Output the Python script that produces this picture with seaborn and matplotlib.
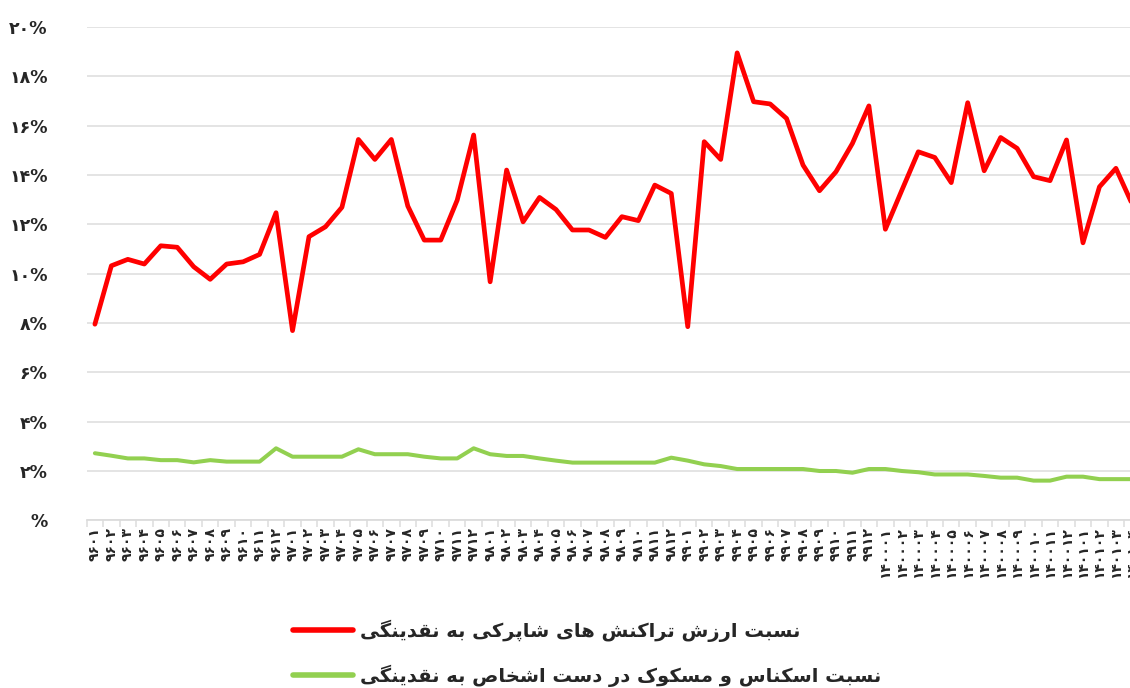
import numpy as np
import pandas as pd
import matplotlib
matplotlib.use('Agg')
import matplotlib.pyplot as plt
import seaborn as sns

# سال ها و ماه ها (۹۶۰۱ تا ۱۴۰۱۰۴)
years = ['96', '97', '98', '99', '1400', '1401']
months_per_year = [12, 12, 12, 12, 12, 4]

# نسبت ارزش تراکنش های شاپرکی به نقدینگی (%)
shaparak = [7.95, 10.32, 10.58, 10.39, 11.13, 11.07, 10.28, 9.77, 10.39, 10.48, 10.78, 12.47,
            7.69, 11.5, 11.9, 12.69, 15.44, 14.63, 15.44, 12.74, 11.36, 11.36, 12.98, 15.62,
            9.67, 14.2, 12.1, 13.09, 12.6, 11.77, 11.77, 11.47, 12.31, 12.15, 13.59, 13.25,
            7.85, 15.35, 14.63, 18.95, 16.97, 16.88, 16.29, 14.4, 13.36, 14.13, 15.28, 16.8,
            11.8, 13.38, 14.94, 14.71, 13.69, 16.93, 14.17, 15.52, 15.08, 13.93, 13.77, 15.42,
            11.25, 13.52, 14.27, 12.8]

# نسبت اسکناس و مسکوک در دست اشخاص به نقدینگی (%)
cash = [2.72, 2.62, 2.51, 2.51, 2.44, 2.44, 2.35, 2.44, 2.38, 2.38, 2.38, 2.92,
        2.58, 2.58, 2.58, 2.58, 2.88, 2.68, 2.68, 2.68, 2.58, 2.51, 2.51, 2.92,
        2.68, 2.61, 2.61, 2.51, 2.42, 2.34, 2.34, 2.34, 2.34, 2.34, 2.34, 2.54,
        2.42, 2.27, 2.2, 2.08, 2.08, 2.08, 2.08, 2.08, 2.0, 2.0, 1.93, 2.08,
        2.08, 2.0, 1.95, 1.86, 1.86, 1.86, 1.8, 1.73, 1.73, 1.61, 1.61, 1.77,
        1.77, 1.67, 1.67, 1.67]

label_red = 'نسبت ارزش تراکنش های شاپرکی به نقدینگی'
label_green = 'نسبت اسکناس و مسکوک در دست اشخاص به نقدینگی'

FA = str.maketrans('0123456789', '۰۱۲۳۴۵۶۷۸۹')

# matplotlib حروف فارسی را به هم نمی چسباند، پس شکل ها دستی انتخاب می شوند
FORMS = {
    'ا': ('\uFE8D', '\uFE8E', None, None),
    'ب': ('\uFE8F', '\uFE90', '\uFE91', '\uFE92'),
    'پ': ('\uFB56', '\uFB57', '\uFB58', '\uFB59'),
    'ت': ('\uFE95', '\uFE96', '\uFE97', '\uFE98'),
    'خ': ('\uFEA5', '\uFEA6', '\uFEA7', '\uFEA8'),
    'د': ('\uFEA9', '\uFEAA', None, None),
    'ر': ('\uFEAD', '\uFEAE', None, None),
    'ز': ('\uFEAF', '\uFEB0', None, None),
    'س': ('\uFEB1', '\uFEB2', '\uFEB3', '\uFEB4'),
    'ش': ('\uFEB5', '\uFEB6', '\uFEB7', '\uFEB8'),
    'ص': ('\uFEB9', '\uFEBA', '\uFEBB', '\uFEBC'),
    'ق': ('\uFED5', '\uFED6', '\uFED7', '\uFED8'),
    'ک': ('\uFB8E', '\uFB8F', '\uFB90', '\uFB91'),
    'گ': ('\uFB92', '\uFB93', '\uFB94', '\uFB95'),
    'م': ('\uFEE1', '\uFEE2', '\uFEE3', '\uFEE4'),
    'ن': ('\uFEE5', '\uFEE6', '\uFEE7', '\uFEE8'),
    'ه': ('\uFEE9', '\uFEEA', '\uFEEB', '\uFEEC'),
    'و': ('\uFEED', '\uFEEE', None, None),
    'ی': ('\uFBFC', '\uFBFD', '\uFBFE', '\uFBFF'),
}


def shape(text):
    out = []
    for i, ch in enumerate(text):
        if ch not in FORMS:
            out.append(ch)
            continue
        prev = text[i - 1] if i > 0 else ''
        nxt = text[i + 1] if i + 1 < len(text) else ''
        iso, fin, ini, med = FORMS[ch]
        join_prev = prev in FORMS and FORMS[prev][2] is not None
        join_next = nxt in FORMS and ini is not None
        if join_prev and join_next:
            out.append(med)
        elif join_prev:
            out.append(fin)
        elif join_next:
            out.append(ini)
        else:
            out.append(iso)
    return ''.join(reversed(out))


month_labels = []
for y, m in zip(years, months_per_year):
    for k in range(1, m + 1):
        month_labels.append((y + '%02d' % k).translate(FA))

n = len(month_labels)
pos = np.arange(n)
df = pd.DataFrame({'pos': np.concatenate([pos, pos]),
                   'value': shaparak + cash,
                   'series': [shape(label_red)] * n + [shape(label_green)] * n})

sns.set_theme(style='white')
plt.rcParams['font.family'] = ['DejaVu Sans']

fig = plt.figure(figsize=(11.3, 6.88), dpi=100)
ax = fig.add_axes([0.0767, 0.2437, 0.9327, 0.7171])

sns.lineplot(data=df, x='pos', y='value', hue='series',
             palette=['#FF0000', '#92D050'], ax=ax, sort=False)
for line, lw in zip(ax.lines, [3.4, 2.9]):
    line.set_linewidth(lw)
    line.set_solid_capstyle('round')
    line.set_solid_joinstyle('round')

ax.set_xlim(-0.5, n - 0.5)
ax.set_ylim(0, 20)
yt = np.arange(0, 21, 2)
ax.set_yticks(yt)
ax.set_yticklabels(['%' if v == 0 else str(v).translate(FA) + '%' for v in yt],
                   fontsize=12.5, fontweight='bold')
ax.yaxis.grid(True, color='#dcdcdc', linewidth=1.1)
ax.tick_params(axis='y', length=0, pad=28)

ax.set_xticks(np.arange(-0.5, n, 1))
ax.set_xticklabels([])
ax.set_xticks(pos, minor=True)
ax.set_xticklabels(month_labels, minor=True, rotation=90,
                   fontsize=10, fontweight='bold')
ax.tick_params(axis='x', which='major', length=5, width=1.1,
               color='#dcdcdc', direction='out', bottom=True)
ax.tick_params(axis='x', which='minor', length=0, pad=5)
ax.set_xlabel('')
ax.set_ylabel('')

for s in ['top', 'left', 'right']:
    ax.spines[s].set_visible(False)
ax.spines['bottom'].set_color('#dcdcdc')
ax.spines['bottom'].set_linewidth(1.3)

leg = ax.legend(loc='upper left', bbox_to_anchor=(293 / 1130, 1 - 620 / 688),
                bbox_transform=fig.transFigure, frameon=False,
                prop={'size': 14, 'weight': 'bold'}, handlelength=3.1,
                handletextpad=0.35, labelspacing=1.15, borderpad=0, borderaxespad=0)
for h in leg.get_lines():
    h.set_linewidth(4)

fig.savefig('out.png', dpi=100)
